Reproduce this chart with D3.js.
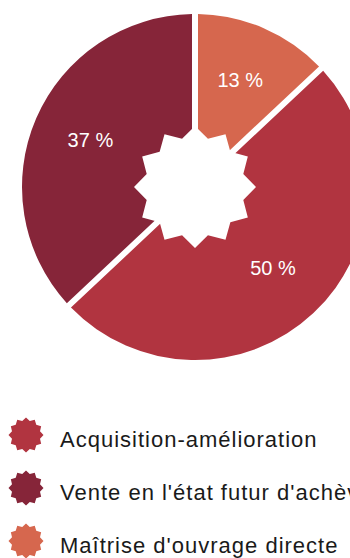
<!DOCTYPE html>
<html lang="fr">
<head>
<meta charset="utf-8">
<script src="https://cdn.jsdelivr.net/npm/d3@7"></script>
<style>
  html, body { margin: 0; padding: 0; background: #fff; }
  svg { display: block; }
</style>
</head>
<body>
<svg id="chart" width="350" height="558"></svg>
<script>
// Répartition par mode de production (en %)
const categories = ["Acquisition-amélioration", "Vente en l'état futur d'achèvement", "Maîtrise d'ouvrage directe"];
const values = [50, 37, 13];
const colors = ["#B13440", "#862539", "#D6674E"];
const valueLabels = ["50 %", "37 %", "13 %"];

const svg = d3.select("#chart");

const cx = 195, cy = 187, R = 173;

// Star-shaped polygon path: n points, outer radius ro, inner radius ri
function starPath(n, ro, ri) {
  const pts = [];
  for (let i = 0; i < n * 2; i++) {
    const a = Math.PI * i / n;
    const r = i % 2 === 0 ? ro : ri;
    pts.push([r * Math.sin(a), -r * Math.cos(a)]);
  }
  return d3.line()(pts) + "Z";
}

// The last slice sits at 12 o'clock, so the pie begins right after it
const total = d3.sum(values);
const start = 2 * Math.PI * values[values.length - 1] / total;

const pie = d3.pie().sort(null).value(d => d)
  .startAngle(start).endAngle(start + 2 * Math.PI);
const arcs = pie(values);

const gap = 6;
const arc = d3.arc()
  .innerRadius(30)
  .outerRadius(R)
  .padRadius(R)
  .padAngle(gap / R);

const labelArc = d3.arc().innerRadius(114).outerRadius(114);

const g = svg.append("g").attr("transform", `translate(${cx},${cy})`);

g.selectAll("path.slice")
  .data(arcs)
  .join("path")
  .attr("class", "slice")
  .attr("d", arc)
  .attr("fill", (d, i) => colors[i]);

// White star in the middle
g.append("path")
  .attr("d", starPath(12, 61, 50))
  .attr("fill", "#fff");

g.selectAll("text.val")
  .data(arcs)
  .join("text")
  .attr("class", "val")
  .attr("transform", d => `translate(${labelArc.centroid(d)})`)
  .attr("text-anchor", "middle")
  .attr("dy", "0.25em")
  .attr("fill", "#fff")
  .style("font-family", "'Liberation Sans', Arial, sans-serif")
  .style("font-size", "20px")
  .text((d, i) => valueLabels[i]);

// Legend
const legend = svg.append("g");
const rowY = d3.scalePoint().domain(d3.range(categories.length)).range([435, 541]);

const rows = legend.selectAll("g.row")
  .data(categories)
  .join("g")
  .attr("class", "row")
  .attr("transform", (d, i) => `translate(0,${rowY(i)})`);

rows.append("path")
  .attr("transform", "translate(26,0)")
  .attr("d", starPath(12, 17.5, 14.5))
  .attr("fill", (d, i) => colors[i]);

rows.append("text")
  .attr("x", 60)
  .attr("y", 11.5)
  .attr("fill", "#1a1a1a")
  .style("font-family", "'Liberation Sans', Arial, sans-serif")
  .style("font-size", "22px")
  .style("letter-spacing", "1px")
  .text(d => d);
</script>
</body>
</html>
